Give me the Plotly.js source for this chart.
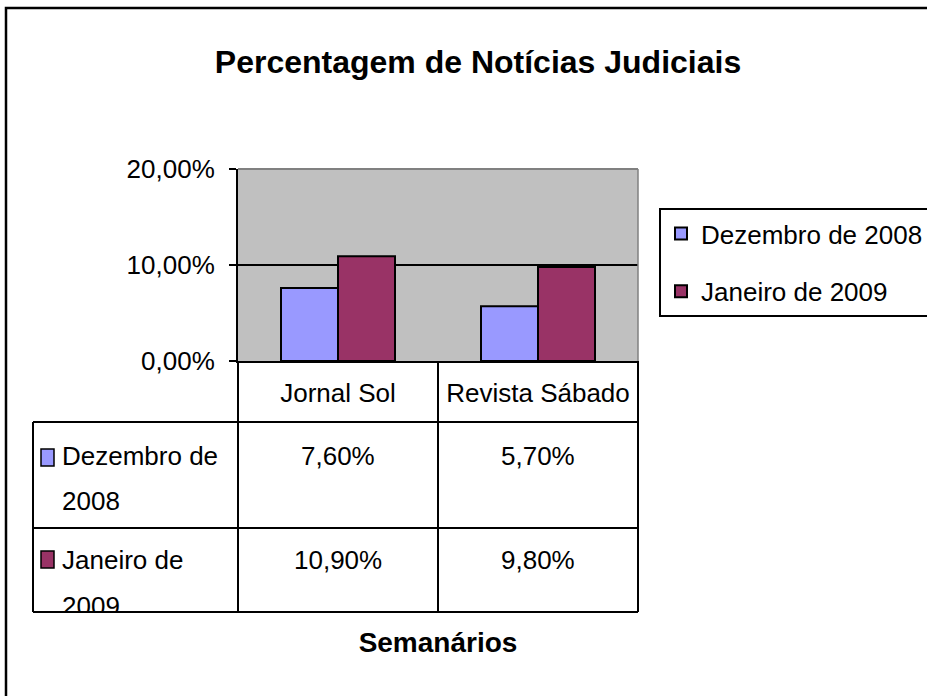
<!DOCTYPE html>
<html>
<head>
<meta charset="utf-8">
<script src="https://cdn.plot.ly/plotly-3.0.1.min.js"></script>
<style>html,body{margin:0;padding:0;background:#fff;}#chart{width:927px;height:696px;}</style>
</head>
<body>
<div id="chart"></div>
<script>
// ---- data ----
const categories = ['Jornal Sol', 'Revista Sábado'];
const seriesNames = ['Dezembro de 2008', 'Janeiro de 2009'];
const dez2008 = [7.6, 5.7];
const jan2009 = [10.9, 9.8];
const yTickVals = [0, 10, 20];
const chartTitle = 'Percentagem de Notícias Judiciais';
const xTitle = 'Semanários';

// ---- helpers ----
const FONT = '"Liberation Sans", Arial, sans-serif';
const FS = 26;
const fmt = v => v.toFixed(2).replace('.', ',') + '%';
const L = 238, R = 638, T = 169, B = 361;
const px = X => (X - L) / (R - L);
const py = Y => (B - Y) / (B - T);
const colors = ['#9999FF', '#993366'];
const series = [dez2008, jan2009];

const traces = series.map((vals, i) => ({
  type: 'bar',
  name: seriesNames[i],
  x: categories,
  y: vals,
  legendgroup: 'g' + i,
  marker: {color: colors[i], line: {color: '#000', width: 2}},
  hoverinfo: 'skip'
}));

const shapes = [];
const line = (x0, y0, x1, y1, color, w) => shapes.push({
  type: 'line', xref: 'paper', yref: 'paper',
  x0: px(x0), y0: py(y0), x1: px(x1), y1: py(y1),
  line: {color: color || '#000', width: w || 2}, layer: 'above'
});
// plot area border (gray top/right)
line(L, T, R, T, '#808080', 2);
line(R, T, R, B, '#808080', 1.5);
// data table grid
[422, 528, 612].forEach(Y => line(33, Y, R, Y));
line(33, 422, 33, 612);
[L, 438, R].forEach(X => line(X, B, X, 612));
// outer chart border
shapes.push({type: 'rect', xref: 'paper', yref: 'paper',
  x0: px(6), y0: py(8), x1: px(940), y1: py(720),
  line: {color: '#000', width: 2.5}, fillcolor: 'rgba(0,0,0,0)', layer: 'below'});

const annotations = [];
const rowLine1 = [456, 560];
const rowLine2 = [501, 606];
const markerTop = [449, 551];
series.forEach((vals, i) => {
  vals.forEach((v, j) => {
    annotations.push({xref: 'paper', yref: 'paper', x: (j + 0.5) / categories.length, y: py(rowLine1[i]),
      text: fmt(v), showarrow: false, xanchor: 'center', yanchor: 'middle',
      font: {family: FONT, size: FS, color: '#000'}});
  });
  const name = seriesNames[i];
  const k = name.lastIndexOf(' ');
  annotations.push({xref: 'paper', yref: 'paper', x: px(60), y: py(rowLine1[i]),
    text: name.slice(0, k), showarrow: false, xanchor: 'left', yanchor: 'middle',
    font: {family: FONT, size: FS, color: '#000'}});
  annotations.push({xref: 'paper', yref: 'paper', x: px(60), y: py(rowLine2[i]),
    text: name.slice(k + 1), showarrow: false, xanchor: 'left', yanchor: 'middle',
    font: {family: FONT, size: FS, color: '#000'}});
  shapes.push({type: 'rect', xref: 'paper', yref: 'paper',
    x0: px(41), x1: px(54), y0: py(markerTop[i]), y1: py(markerTop[i] + 17),
    fillcolor: colors[i], line: {color: '#000', width: 1.5}, layer: 'above'});
});
// mask to clip the last wrapped row label at the table's bottom edge
annotations.push({xref: 'paper', yref: 'paper', x: px(36), y: py(612.5), xanchor: 'left', yanchor: 'top',
  text: ' ', showarrow: false, width: 198, height: 20, bgcolor: '#fff', borderpad: 0, borderwidth: 0,
  font: {family: FONT, size: 12}});

const layout = {
  width: 927, height: 696,
  margin: {l: L, r: 927 - R, t: T, b: 696 - B, autoexpand: false},
  paper_bgcolor: '#fff', plot_bgcolor: '#C0C0C0',
  font: {family: FONT, color: '#000', size: FS},
  title: {text: chartTitle, x: 478 / 927, xanchor: 'center', y: 1 - 62 / 696, yanchor: 'middle',
    xref: 'container', yref: 'container', font: {family: FONT, size: 32, weight: 700, color: '#000'}},
  barmode: 'group', bargap: 0.43, bargroupgap: 0,
  xaxis: {type: 'category', showline: true, linecolor: '#000', linewidth: 2, ticks: '',
    showgrid: false, tickfont: {family: FONT, size: FS, color: '#000'}, ticklabelstandoff: 8,
    title: {text: xTitle, font: {family: FONT, size: 28, weight: 700, color: '#000'}, standoff: 225},
    fixedrange: true},
  yaxis: {range: [0, 20], tickvals: yTickVals, ticktext: yTickVals.map(fmt), showline: true,
    linecolor: '#000', linewidth: 2, ticks: 'outside', ticklen: 7, tickwidth: 2, tickcolor: '#000',
    showgrid: true, gridcolor: '#000', gridwidth: 2, zeroline: false,
    tickfont: {family: FONT, size: FS, color: '#000'}, ticklabelstandoff: 9, fixedrange: true},
  showlegend: true,
  legend: {x: px(659), y: py(208), xanchor: 'left', yanchor: 'top', bgcolor: '#fff',
    bordercolor: '#000', borderwidth: 2, font: {family: FONT, size: FS, color: '#000'},
    traceorder: 'grouped', tracegroupgap: 21},
  shapes: shapes,
  annotations: annotations
};

Plotly.newPlot('chart', traces, layout, {staticPlot: true, displayModeBar: false});
</script>
</body>
</html>
